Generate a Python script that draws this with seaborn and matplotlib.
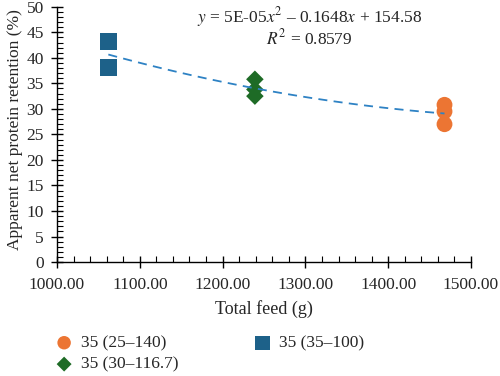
import numpy as np
import pandas as pd
import seaborn as sns
import matplotlib.pyplot as plt
from matplotlib.ticker import MultipleLocator, FormatStrFormatter

# data
groups = ['35 (25–140)', '35 (30–116.7)', '35 (35–100)']
feed_orange = [1468, 1468, 1468]
npr_orange = [30.8, 29.5, 27.0]
feed_green = [1239, 1239, 1239]
npr_green = [35.8, 33.8, 32.5]
feed_blue = [1062, 1062]
npr_blue = [43.2, 38.1]

df = pd.DataFrame({
    'feed': feed_orange + feed_green + feed_blue,
    'npr': npr_orange + npr_green + npr_blue,
    'group': [groups[0]] * 3 + [groups[1]] * 3 + [groups[2]] * 2,
})

colors = {groups[0]: '#EC7533', groups[1]: '#1E6B26', groups[2]: '#1D6189'}
markers = {groups[0]: 'o', groups[1]: 'D', groups[2]: 's'}
sizes = {groups[0]: 130, groups[1]: 80, groups[2]: 150}

sns.set_style('ticks')
plt.rcParams['font.family'] = ['Liberation Serif', 'DejaVu Serif']
plt.rcParams['mathtext.fontset'] = 'stix'

fig, ax = plt.subplots(figsize=(5, 3.76), dpi=100)
fig.subplots_adjust(left=0.114, right=0.942, top=0.982, bottom=0.303)

for g in groups:
    d = df[df['group'] == g]
    sns.scatterplot(x='feed', y='npr', data=d, color=colors[g], marker=markers[g],
                    s=sizes[g], edgecolor='none', label=g, ax=ax, zorder=3)

sns.regplot(x='feed', y='npr', data=df, order=2, ci=None, scatter=False, ax=ax,
            line_kws=dict(color='#2E82C4', lw=1.3, ls=(0, (5, 3.5)), zorder=4))

ax.set_xlim(1000, 1500)
ax.set_ylim(0, 50)
ax.xaxis.set_major_locator(MultipleLocator(100))
ax.xaxis.set_minor_locator(MultipleLocator(20))
ax.yaxis.set_major_locator(MultipleLocator(5))
ax.yaxis.set_minor_locator(MultipleLocator(1))
ax.xaxis.set_major_formatter(FormatStrFormatter('%.2f'))
ax.tick_params(which='major', direction='inout', length=9, width=1, labelsize=12.5,
               color='black')
ax.tick_params(axis='x', which='major', pad=6)
ax.tick_params(axis='y', which='major', pad=5)
ax.tick_params(which='minor', direction='in', length=4, width=0.8, color='black')
for sp in ['left', 'bottom']:
    ax.spines[sp].set_color('black')
    ax.spines[sp].set_linewidth(1)
sns.despine(ax=ax)

ax.set_xlabel('Total feed (g)', fontsize=13, labelpad=5)
ax.set_ylabel('Apparent net protein retention (%)', fontsize=12.5)
ax.yaxis.set_label_coords(-0.083, 0.52)

ax.text(0.61, 0.96, r'$y$ = 5E-05$x^2$ – 0.1648$x$ + 154.58', transform=ax.transAxes,
        ha='center', va='center', fontsize=12.5)
ax.text(0.61, 0.878, r'$R^2$ = 0.8579', transform=ax.transAxes,
        ha='center', va='center', fontsize=12.5)

h, l = ax.get_legend_handles_labels()
ax.legend(h, l, loc='upper left', bbox_to_anchor=(-0.052, -0.225), ncol=2, frameon=False,
          fontsize=12.5, columnspacing=4.1, handletextpad=0.2, labelspacing=0.3,
          markerscale=0.85, handlelength=1.5)

fig.savefig('out.png', dpi=100)
